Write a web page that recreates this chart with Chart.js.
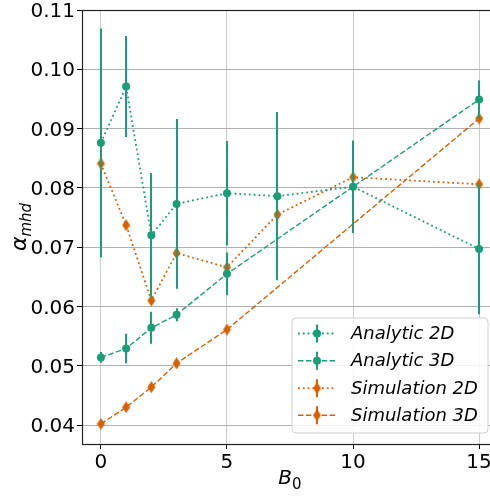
<!doctype html>
<html lang="en">
<head>
    <meta charset="utf-8">
    <title>alpha_mhd vs B0</title>
    <script src="https://cdn.jsdelivr.net/npm/chart.js/dist/chart.umd.min.js"></script>
    <style>
        * { margin: 0; padding: 0; }
        body { width: 490px; height: 498px; overflow: hidden; background: #fff; }
    </style>
</head>
<body>
    <canvas id="alphaChart" width="520" height="498"></canvas>
    <script>
    // field strengths
    var b0Runs2D = [0, 1, 2, 3, 5, 7, 10, 15];
    var b0Runs3D = [0, 1, 2, 3, 5, 15];

    // alpha_mhd values and error half-widths
    var analytic2D    = [0.0876, 0.0971, 0.0720, 0.0773, 0.0791, 0.0786, 0.0802, 0.0697];
    var analytic2DErr = [0.0193, 0.0085, 0.0105, 0.0143, 0.0088, 0.0142, 0.0078, 0.0110];
    var analytic3D    = [0.0514, 0.0529, 0.0564, 0.0586, 0.0655, 0.0949];
    var analytic3DErr = [0.0009, 0.0025, 0.0027, 0.0011, 0.0036, 0.0032];
    var simulation2D    = [0.0841, 0.0737, 0.0610, 0.0690, 0.0666, 0.0755, 0.0818, 0.0806];
    var simulation2DErr = [0.0006, 0.0006, 0.0006, 0.0006, 0.0006, 0.0006, 0.0006, 0.0006];
    var simulation3D    = [0.0402, 0.0430, 0.0464, 0.0504, 0.0561, 0.0917];
    var simulation3DErr = [0.0005, 0.0005, 0.0005, 0.0005, 0.0005, 0.0005];

    var xTicks = [0, 5, 10, 15];
    var yTicks = [0.04, 0.05, 0.06, 0.07, 0.08, 0.09, 0.10, 0.11];

    var GREEN = '#1b9e77';
    var ORANGE = '#d95f02';
    var DOTTED = [1.8, 3];
    var DASHED = [5.5, 2.4];

    // thin diamond marker like matplotlib 'd'
    function thinDiamond(color) {
        var c = document.createElement('canvas');
        c.width = 9; c.height = 12;
        var g = c.getContext('2d');
        g.fillStyle = color;
        g.beginPath();
        g.moveTo(4.5, 0); g.lineTo(8.5, 6); g.lineTo(4.5, 12); g.lineTo(0.5, 6);
        g.closePath(); g.fill();
        return c;
    }
    var diamond = thinDiamond(ORANGE);

    function pts(xs, ys) {
        return xs.map(function (x, i) { return { x: x, y: ys[i] }; });
    }

    function series(label, xs, ys, errs, color, dash, marker) {
        return {
            label: label,
            data: pts(xs, ys),
            errors: errs,
            showLine: true,
            borderColor: color,
            backgroundColor: color,
            borderWidth: dash === DOTTED ? 1.8 : 1.4,
            borderDash: dash,
            pointStyle: marker,
            pointRadius: 4,
            pointHoverRadius: 4,
            pointBorderWidth: 0,
            fill: false
        };
    }

    var datasets = [
        series('Analytic 2D', b0Runs2D, analytic2D, analytic2DErr, GREEN, DOTTED, 'circle'),
        series('Analytic 3D', b0Runs3D, analytic3D, analytic3DErr, GREEN, DASHED, 'circle'),
        series('Simulation 2D', b0Runs2D, simulation2D, simulation2DErr, ORANGE, DOTTED, diamond),
        series('Simulation 3D', b0Runs3D, simulation3D, simulation3DErr, ORANGE, DASHED, diamond)
    ];

    var FONT = 'DejaVu Sans';

    // vertical error bars, drawn under each series' own line and markers
    var errorBars = {
        id: 'errorBars',
        beforeDatasetDraw: function (chart, args) {
            var ds = chart.data.datasets[args.index];
            if (!ds.errors) return;
            var ctx = chart.ctx, xs = chart.scales.x, ys = chart.scales.y, a = chart.chartArea;
            ctx.save();
            ctx.beginPath();
            ctx.rect(a.left, a.top, a.right - a.left, a.bottom - a.top);
            ctx.clip();
            ctx.strokeStyle = ds.borderColor;
            ctx.lineWidth = 2;
            ds.data.forEach(function (p, i) {
                var px = Math.round(xs.getPixelForValue(p.x));
                ctx.beginPath();
                ctx.moveTo(px, ys.getPixelForValue(p.y - ds.errors[i]));
                ctx.lineTo(px, ys.getPixelForValue(p.y + ds.errors[i]));
                ctx.stroke();
            });
            ctx.restore();
        }
    };

    // axes frame, axis titles with subscripts, and the legend box
    var decorations = {
        id: 'decorations',
        afterDraw: function (chart) {
            var ctx = chart.ctx, a = chart.chartArea;
            ctx.save();
            ctx.strokeStyle = '#222';
            ctx.lineWidth = 1.2;
            ctx.strokeRect(a.left + 0.5, a.top + 0.5, a.right - a.left, a.bottom - a.top);

            // x title: B_0
            ctx.fillStyle = '#000';
            ctx.textBaseline = 'alphabetic';
            ctx.font = 'italic 20px "' + FONT + '"';
            var wB = ctx.measureText('B').width;
            ctx.font = '15px "' + FONT + '"';
            var w0 = ctx.measureText('0').width;
            var cx = (82 + 497.6) / 2;
            var x0 = cx - (wB + w0) / 2;
            ctx.font = 'italic 20px "' + FONT + '"';
            ctx.fillText('B', x0, 484);
            ctx.font = '15px "' + FONT + '"';
            ctx.fillText('0', x0 + wB, 489);

            // y title: alpha_mhd
            ctx.translate(26, (a.top + a.bottom) / 2);
            ctx.rotate(-Math.PI / 2);
            ctx.font = 'italic 22px "' + FONT + '"';
            var wa = ctx.measureText('α').width;
            ctx.font = 'italic 15px "' + FONT + '"';
            var wm = ctx.measureText('mhd').width;
            var y0 = -(wa + wm) / 2;
            ctx.font = 'italic 22px "' + FONT + '"';
            ctx.fillText('α', y0, 0);
            ctx.font = 'italic 15px "' + FONT + '"';
            ctx.fillText('mhd', y0 + wa, 5);
            ctx.restore();

            // legend
            ctx.save();
            var bx = 292, by = 318, bw = 196, bh = 115, r = 4;
            ctx.beginPath();
            ctx.moveTo(bx + r, by);
            ctx.arcTo(bx + bw, by, bx + bw, by + bh, r);
            ctx.arcTo(bx + bw, by + bh, bx, by + bh, r);
            ctx.arcTo(bx, by + bh, bx, by, r);
            ctx.arcTo(bx, by, bx + bw, by, r);
            ctx.closePath();
            ctx.fillStyle = 'rgba(255,255,255,0.85)';
            ctx.fill();
            ctx.strokeStyle = '#d0d0d0';
            ctx.lineWidth = 1;
            ctx.stroke();

            var rows = [333.5, 360.8, 388.2, 415.2];
            chart.data.datasets.forEach(function (ds, i) {
                var ry = rows[i];
                ctx.strokeStyle = ds.borderColor;
                ctx.lineWidth = ds.borderWidth;
                ctx.setLineDash(ds.borderDash);
                ctx.beginPath();
                ctx.moveTo(298, ry);
                ctx.lineTo(336, ry);
                ctx.stroke();
                ctx.setLineDash([]);
                ctx.lineWidth = 2;
                ctx.beginPath();
                ctx.moveTo(317, ry - 9);
                ctx.lineTo(317, ry + 9);
                ctx.stroke();
                if (ds.pointStyle === 'circle') {
                    ctx.fillStyle = ds.backgroundColor;
                    ctx.beginPath();
                    ctx.arc(317, ry, 4, 0, Math.PI * 2);
                    ctx.fill();
                } else {
                    ctx.drawImage(ds.pointStyle, 317 - 4.5, ry - 6);
                }
                ctx.fillStyle = '#000';
                ctx.font = 'italic 18px "' + FONT + '"';
                ctx.textBaseline = 'middle';
                ctx.fillText(ds.label, 351, ry + 1);
            });
            ctx.restore();
        }
    };

    var ctx = document.getElementById('alphaChart');
    var alphaChart = new Chart(ctx, {
        type: 'scatter',
        data: { datasets: datasets },
        plugins: [errorBars, decorations],
        options: {
            responsive: false,
            animation: false,
            events: [],
            layout: { padding: { top: 10, left: 0, right: 22, bottom: 0 } },
            plugins: {
                legend: { display: false },
                tooltip: { enabled: false }
            },
            scales: {
                x: {
                    type: 'linear',
                    min: -0.75,
                    max: 15.75,
                    afterBuildTicks: function (s) {
                        s.ticks = xTicks.map(function (v) { return { value: v }; });
                    },
                    afterFit: function (s) {
                        s.height = 54;
                        s.paddingLeft = 0;
                        s.paddingRight = 0;
                    },
                    ticks: {
                        color: '#000',
                        font: { family: FONT, size: 20 },
                        padding: 2,
                        maxRotation: 0
                    },
                    grid: { color: '#cccccc', lineWidth: 1, tickColor: '#000', tickLength: 5 },
                    border: { color: '#000', width: 1 }
                },
                y: {
                    type: 'linear',
                    min: 0.0368,
                    max: 0.11,
                    afterBuildTicks: function (s) {
                        s.ticks = yTicks.map(function (v) { return { value: v }; });
                    },
                    afterFit: function (s) {
                        s.width = 82;
                        s.paddingTop = 0;
                        s.paddingBottom = 0;
                    },
                    ticks: {
                        color: '#000',
                        font: { family: FONT, size: 20 },
                        padding: 2,
                        labelOffset: 2,
                        callback: function (v) { return v.toFixed(2); }
                    },
                    grid: { color: '#b0b0b0', lineWidth: 1, tickColor: '#000', tickLength: 5 },
                    border: { color: '#000', width: 1 }
                }
            }
        }
    });
    </script>
</body>
</html>
